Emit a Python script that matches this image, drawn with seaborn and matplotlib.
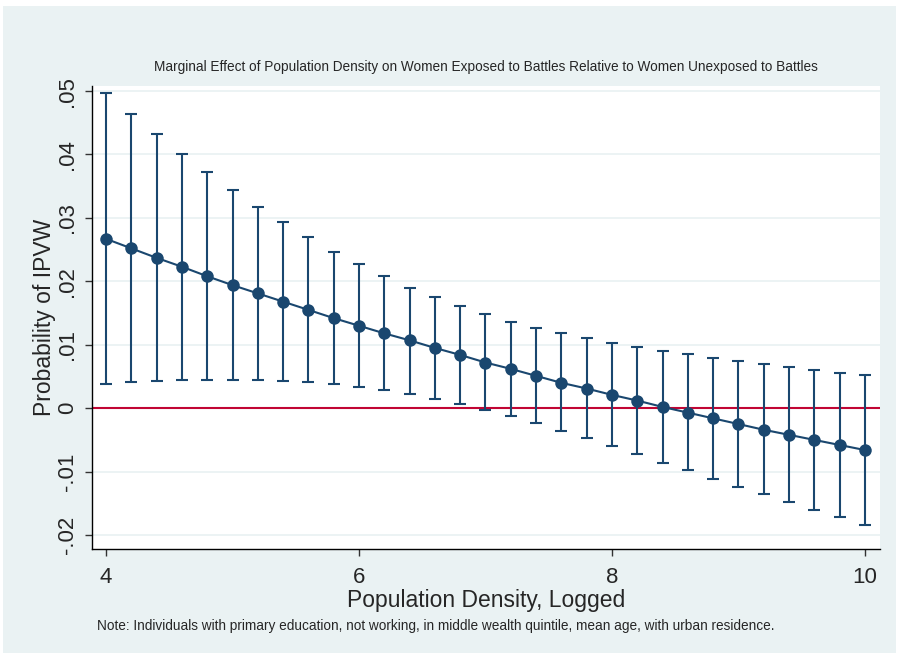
import numpy as np
import pandas as pd
import matplotlib
matplotlib.use('Agg')
import matplotlib.pyplot as plt
import seaborn as sns

# values
density = [4.0, 4.2, 4.4, 4.6, 4.8, 5.0, 5.2, 5.4, 5.6, 5.8, 6.0, 6.2, 6.4, 6.6, 6.8,
           7.0, 7.2, 7.4, 7.6, 7.8, 8.0, 8.2, 8.4, 8.6, 8.8, 9.0, 9.2, 9.4, 9.6, 9.8, 10.0]
margin = [0.0267, 0.0252, 0.0237, 0.0223, 0.0208, 0.0194, 0.0181, 0.0168, 0.0155, 0.0142,
          0.0130, 0.0118, 0.0107, 0.0095, 0.0084, 0.0072, 0.0062, 0.0051, 0.0040, 0.0031,
          0.0021, 0.0012, 0.0002, -0.0007, -0.0016, -0.0025, -0.0034, -0.0042, -0.0050,
          -0.0058, -0.0066]
ci_upper = [0.0497, 0.0464, 0.0432, 0.0401, 0.0372, 0.0344, 0.0317, 0.0293, 0.0270, 0.0247,
            0.0227, 0.0208, 0.0190, 0.0175, 0.0161, 0.0148, 0.0136, 0.0126, 0.0118, 0.0110,
            0.0103, 0.0096, 0.0090, 0.0085, 0.0079, 0.0075, 0.0069, 0.0065, 0.0060, 0.0056,
            0.0052]
ci_lower = [0.0038, 0.0041, 0.0043, 0.0045, 0.0045, 0.0045, 0.0045, 0.0043, 0.0041, 0.0038,
            0.0034, 0.0029, 0.0023, 0.0015, 0.0007, -0.0003, -0.0013, -0.0024, -0.0036, -0.0047,
            -0.0060, -0.0073, -0.0086, -0.0098, -0.0111, -0.0124, -0.0136, -0.0148, -0.0160,
            -0.0172, -0.0184]
y_ticks = [-0.02, -0.01, 0, 0.01, 0.02, 0.03, 0.04, 0.05]
y_labels = ['-.02', '-.01', '0', '.01', '.02', '.03', '.04', '.05']
x_ticks = [4, 6, 8, 10]

df = pd.DataFrame({'density': density, 'margin': margin,
                   'lo': ci_lower, 'hi': ci_upper})

navy = '#1a476f'
bg = '#eaf2f3'

sns.set_style('white')
plt.rcParams['font.family'] = ['Liberation Sans', 'DejaVu Sans']

fig = plt.figure(figsize=(9, 6.55), dpi=100, facecolor='white')
# light outer panel like Stata's graph region
fig.patches.append(plt.Rectangle((3 / 900, 0.003), 893 / 900, 1 - 6 / 655 - 0.003,
                                 transform=fig.transFigure, facecolor=bg,
                                 edgecolor='none', zorder=-10))
ax = fig.add_axes([92 / 900, 1 - 549 / 655, 788 / 900, 463 / 655])
ax.set_facecolor('white')

# confidence intervals
ax.errorbar(df['density'], df['margin'],
            yerr=[df['margin'] - df['lo'], df['hi'] - df['margin']],
            fmt='none', ecolor=navy, elinewidth=1.5, capsize=4, capthick=1.5, zorder=2)
sns.lineplot(data=df, x='density', y='margin', ax=ax, color=navy, linewidth=1.5,
             marker='o', markersize=9, markeredgewidth=0, zorder=3)
ax.axhline(0, color='#c10534', linewidth=1.5, zorder=1)

for v in y_ticks:
    ax.axhline(v, color=bg, linewidth=1.3, zorder=0)

ax.set_xlim(3.889, 10.119)
ax.set_ylim(-0.0222, 0.0508)
ax.set_xticks(x_ticks)
ax.set_xticklabels([str(t) for t in x_ticks])
ax.set_yticks(y_ticks)
ax.set_yticklabels(y_labels, rotation=90, va='center')
ax.tick_params(axis='both', direction='out', length=5, width=1, color='#333333',
               labelsize=16, left=True, bottom=True)
ax.tick_params(axis='x', pad=8)
ax.tick_params(axis='y', pad=5)

for side in ['top', 'right']:
    ax.spines[side].set_visible(False)
for side in ['left', 'bottom']:
    ax.spines[side].set_color('black')
    ax.spines[side].set_linewidth(1)

ax.set_xlabel('Population Density, Logged', fontsize=16.5, labelpad=1)
ax.set_ylabel('Probability of IPVW', fontsize=16.5, labelpad=1)
ax.set_title('Marginal Effect of Population Density on Women Exposed to Battles '
             'Relative to Women Unexposed to Battles', fontsize=9.8, pad=11)
fig.text(97 / 900, 1 - 626 / 655,
         'Note: Individuals with primary education, not working, in middle wealth '
         'quintile, mean age, with urban residence.', fontsize=9.8, va='center')

fig.savefig('out.png', dpi=100, facecolor='white')
